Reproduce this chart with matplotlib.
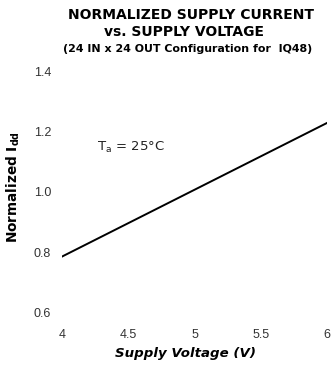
import matplotlib
matplotlib.use("Agg")
import matplotlib.pyplot as plt
import numpy as np

voltage = [4.0, 6.0]
normalized_idd = [0.785, 1.23]
xticks = [4, 4.5, 5, 5.5, 6]
xticklabels = ["4", "4.5", "5", "5.5", "6"]
yticks = [0.6, 0.8, 1.0, 1.2, 1.4]
yticklabels = ["0.6", "0.8", "1.0", "1.2", "1.4"]

plt.rcParams['font.family'] = ['Liberation Sans', 'DejaVu Sans']
plt.rcParams['mathtext.fontset'] = 'dejavusans'

fig = plt.figure(figsize=(3.32, 3.65), dpi=100)
ax = fig.add_axes([0.187, 0.145, 0.798, 0.658])
ax.plot(voltage, normalized_idd, color='black', lw=1.4)
ax.set_xlim(4, 6)
ax.set_ylim(0.6, 1.4)
for s in ax.spines.values():
    s.set_visible(False)
ax.set_xticks(xticks)
ax.set_xticklabels(xticklabels)
ax.set_yticks(yticks)
ax.set_yticklabels(yticklabels)
ax.tick_params(axis='both', length=0, labelsize=9, colors='#333333')
ax.tick_params(axis='x', pad=12)
ax.tick_params(axis='y', pad=8)
ax.set_xlabel("Supply Voltage (V)", fontsize=9.6, fontweight='bold', style='italic',
              family='DejaVu Sans')
ax.xaxis.set_label_coords(0.464, -0.145)
ax.set_ylabel("Normalized I$_{\\mathbf{dd}}$", fontsize=9.8, fontweight='bold',
              family='DejaVu Sans')
ax.yaxis.set_label_coords(-0.15, 0.52)
ax.text(4.26, 1.15, "T$_{\\mathrm{a}}$ = 25°C", fontsize=9.5, va='center', ha='left',
        family='DejaVu Sans', color='#222222')

fig.text(0.575, 0.959, "NORMALIZED SUPPLY CURRENT", ha='center', va='center',
         fontsize=10, fontweight='bold', family='DejaVu Sans')
fig.text(0.555, 0.913, "vs. SUPPLY VOLTAGE", ha='center', va='center',
         fontsize=10, fontweight='bold', family='DejaVu Sans')
fig.text(0.566, 0.866, "(24 IN x 24 OUT Configuration for  IQ48)", ha='center', va='center',
         fontsize=7.9, fontweight='bold', family='DejaVu Sans')

fig.savefig("out.png", dpi=100)
